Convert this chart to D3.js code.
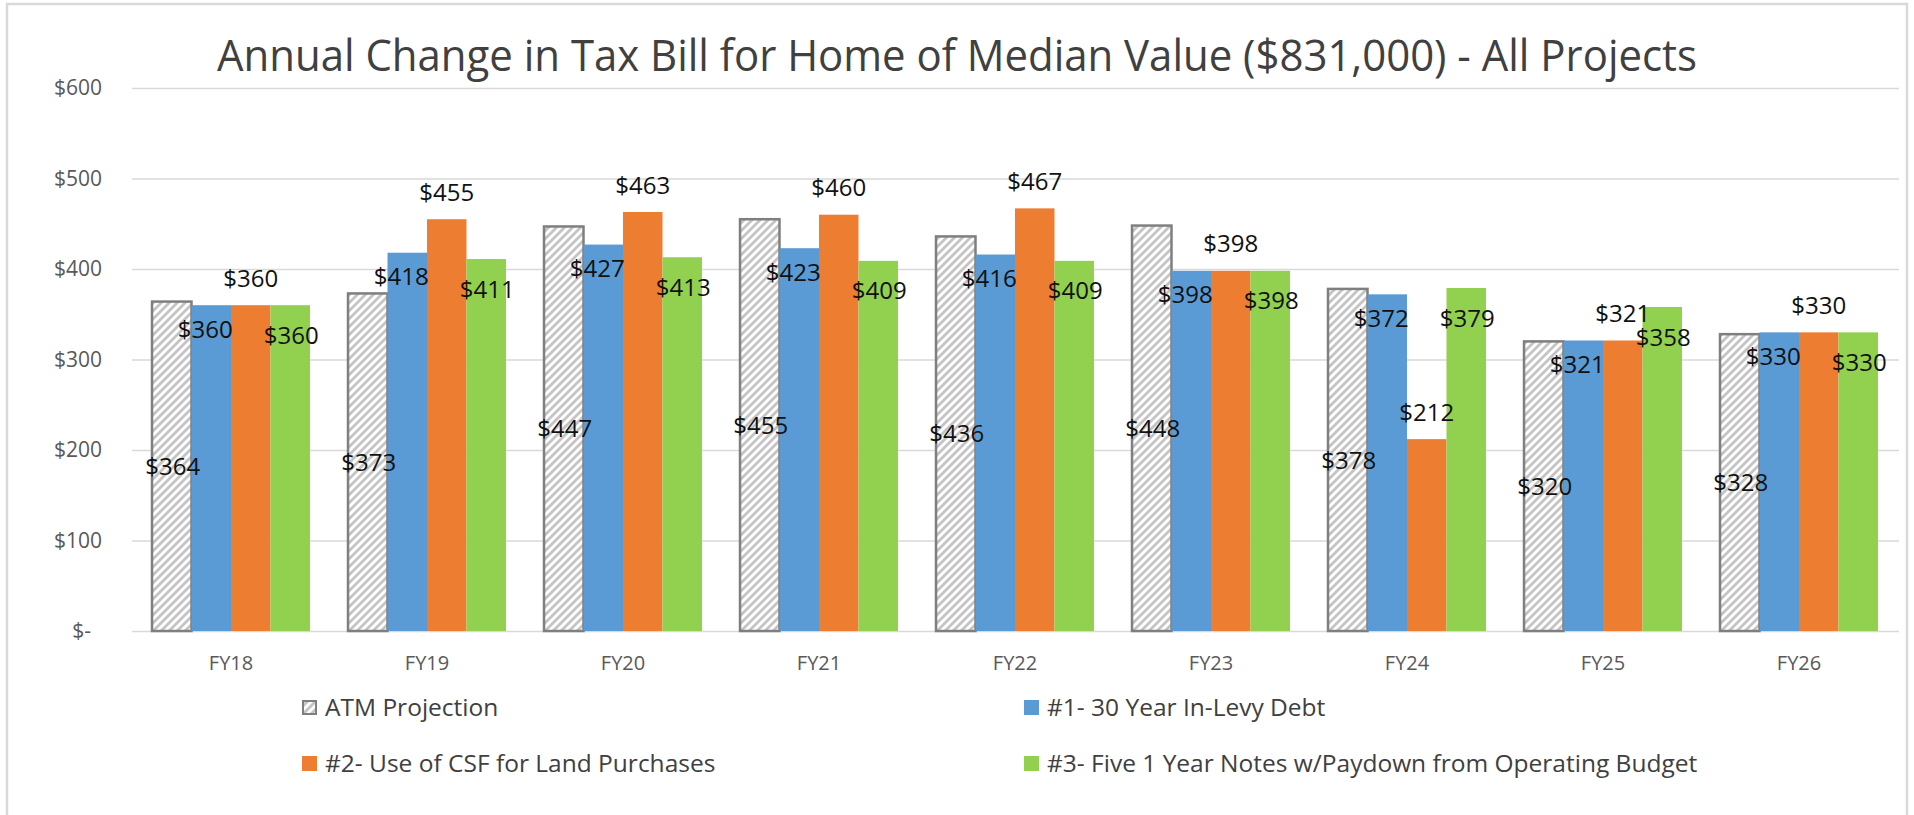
<!DOCTYPE html>
<html>
<head>
<meta charset="utf-8">
<script src="https://cdn.jsdelivr.net/npm/d3@7"></script>
<style>
  html, body { margin: 0; padding: 0; background: #fff; }
  svg { display: block; font-family: "Open Sans", sans-serif; }
</style>
</head>
<body>
<svg id="chart" width="1914" height="815"></svg>
<script>
// values
const categories = ["FY18", "FY19", "FY20", "FY21", "FY22", "FY23", "FY24", "FY25", "FY26"];
const seriesNames = [
  "ATM Projection",
  "#1- 30 Year In-Levy Debt",
  "#2- Use of CSF for Land Purchases",
  "#3- Five 1 Year Notes w/Paydown from Operating Budget"
];
const atmProjection = [364, 373, 447, 455, 436, 448, 378, 320, 328];
const inLevyDebt    = [360, 418, 427, 423, 416, 398, 372, 321, 330];
const csfLand       = [360, 455, 463, 460, 467, 398, 212, 321, 330];
const oneYearNotes  = [360, 411, 413, 409, 409, 398, 379, 358, 330];
const yTicks = [0, 100, 200, 300, 400, 500, 600];
const chartTitle = "Annual Change in Tax Bill for Home of Median Value ($831,000) - All Projects";

(function () {
  const svg = d3.select("#chart");
  const H = 815;

  const seriesValues = [atmProjection, inLevyDebt, csfLand, oneYearNotes];
  const fills = ["url(#hatch)", "#5B9BD5", "#ED7D31", "#92D050"];
  // where Excel put each series' data labels
  const labelPos = ["center", "insideEnd", "outsideEnd", "insideEnd"];
  const labelShift = [
    { dx: 1, dy: 0 }, { dx: -6, dy: 24 }, { dx: 0, dy: -27 }, { dx: 1, dy: 30 }
  ];

  const rows = categories.map((c, i) => ({
    cat: c,
    vals: seriesValues.map((s, k) => ({ k, v: s[i] }))
  }));

  // hatch pattern for the ATM bars
  const defs = svg.append("defs");
  const pat = defs.append("pattern")
    .attr("id", "hatch")
    .attr("patternUnits", "userSpaceOnUse")
    .attr("width", 8).attr("height", 8);
  pat.append("rect").attr("width", 8).attr("height", 8).attr("fill", "#fff");
  pat.append("path")
    .attr("d", "M-2,2 l4,-4 M0,8 l8,-8 M6,10 l4,-4")
    .attr("stroke", "#c4c4c4")
    .attr("stroke-width", 2.8);

  // outer frame
  svg.append("rect")
    .attr("x", 7).attr("y", 4)
    .attr("width", 1900).attr("height", H + 20)
    .attr("fill", "#fff")
    .attr("stroke", "#d9d9d9")
    .attr("stroke-width", 2.5);

  const x0 = d3.scaleBand()
    .domain(categories)
    .range([133, 1897])
    .paddingInner(0.194)
    .paddingOuter(0.097);

  const x1 = d3.scaleBand()
    .domain(d3.range(seriesNames.length))
    .range([0, x0.bandwidth()]);

  const y = d3.scaleLinear().domain([0, 600]).range([631, 88]);

  // gridlines + y labels
  const yAxis = d3.axisLeft(y)
    .tickValues(yTicks)
    .tickSize(-(1899 - 132))
    .tickPadding(30)
    .tickFormat(d => d === 0 ? "$-\u00a0\u00a0" : "$" + d);

  const gY = svg.append("g")
    .attr("transform", "translate(132,0)")
    .call(yAxis);
  gY.select(".domain").remove();
  gY.selectAll(".tick line").attr("stroke", "#d9d9d9").attr("stroke-width", 1.5);
  gY.selectAll(".tick text")
    .attr("x", -30)
    .attr("font-size", 21)
    .attr("font-family", "Open Sans, sans-serif")
    .attr("fill", "#595959");

  // category labels
  const xAxis = d3.axisBottom(x0).tickSize(0).tickPadding(0);
  const gX = svg.append("g")
    .attr("transform", "translate(0,631)")
    .call(xAxis);
  gX.select(".domain").remove();
  gX.selectAll(".tick text")
    .attr("y", 39)
    .attr("dy", 0)
    .attr("font-size", 20)
    .attr("font-family", "Open Sans, sans-serif")
    .attr("fill", "#595959");

  // bars
  const groups = svg.append("g")
    .selectAll("g")
    .data(rows)
    .join("g")
    .attr("transform", d => `translate(${x0(d.cat)},0)`);

  groups.selectAll("rect")
    .data(d => d.vals)
    .join("rect")
    .attr("x", d => x1(d.k))
    .attr("y", d => y(d.v))
    .attr("width", x1.bandwidth())
    .attr("height", d => y(0) - y(d.v))
    .attr("fill", d => fills[d.k])
    .attr("stroke", d => d.k === 0 ? "#7f7f7f" : "none")
    .attr("stroke-width", 2.5);

  // data labels
  groups.selectAll("text")
    .data(d => d.vals)
    .join("text")
    .attr("x", d => x1(d.k) + x1.bandwidth() / 2 + labelShift[d.k].dx)
    .attr("y", d => {
      const top = y(d.v);
      if (labelPos[d.k] === "center") return (top + y(0)) / 2;
      return top + labelShift[d.k].dy;
    })
    .attr("dy", "0.36em")
    .attr("text-anchor", "middle")
    .attr("font-size", 24)
    .attr("fill", "#111")
    .text(d => "$" + d.v);

  // title
  svg.append("text")
    .attr("x", 217)
    .attr("y", 71)
    .attr("font-size", 44)
    .attr("fill", "#404040")
    .attr("textLength", 1480)
    .attr("lengthAdjust", "spacingAndGlyphs")
    .text(chartTitle);

  // legend
  const legendCols = [302, 1024];
  const legendRows = [715, 771];
  const legend = svg.append("g")
    .selectAll("g")
    .data(seriesNames)
    .join("g")
    .attr("transform", (d, i) => `translate(${legendCols[i % 2]},${legendRows[Math.floor(i / 2)]})`);

  legend.append("rect")
    .attr("x", (d, i) => i === 0 ? 1 : 0)
    .attr("y", (d, i) => i === 0 ? -14 : -15)
    .attr("width", (d, i) => i === 0 ? 13 : 15)
    .attr("height", (d, i) => i === 0 ? 13 : 15)
    .attr("fill", (d, i) => fills[i])
    .attr("stroke", (d, i) => i === 0 ? "#7f7f7f" : "none")
    .attr("stroke-width", 2);

  legend.append("text")
    .attr("x", 23)
    .attr("y", 1)
    .attr("font-size", 24.5)
    .attr("fill", "#404040")
    .text(d => d);
})();
</script>
</body>
</html>
